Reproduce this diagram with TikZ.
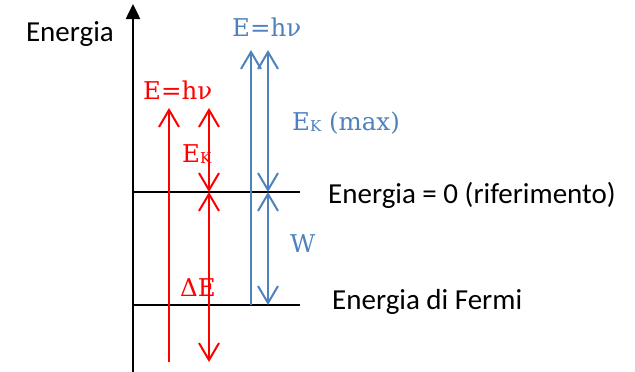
\documentclass[tikz,border=0pt]{standalone}
\usepackage{fontspec}
\setmainfont{Carlito}
\newfontfamily\lserif{DejaVu Serif}
\usetikzlibrary{arrows.meta}
\definecolor{myred}{RGB}{255,0,0}
\definecolor{myblue}{RGB}{79,129,189}
\newcommand{\EK}{E\raisebox{-1.5pt}{\fontsize{15}{15}\selectfont K}}
\tikzset{
  >={Straight Barb[length=17pt,width=20pt,line width=2pt]},
  lbl/.style={inner sep=0pt,anchor=base west,font=\fontsize{29}{31}\selectfont},
  clbl/.style={inner sep=0pt,anchor=base west,font=\lserif\fontsize{24.5}{28}\selectfont},
  level/.style={line width=2pt,black},
  redarr/.style={line width=2.3pt,myred},
  bluearr/.style={line width=2.3pt,myblue},
}
\begin{document}
\begin{tikzpicture}[x=1pt,y=-1pt]
\useasboundingbox (0,0) rectangle (635,372);
% axis
\coordinate (axb) at (133,374);
\coordinate (axt) at (133,4);
\draw[line width=2.5pt,-{Triangle[length=15pt,width=14pt]}] (axb) -- (axt);
% levels
\coordinate (z0) at (133,192);
\coordinate (z1) at (300,192);
\coordinate (f0) at (133,305);
\coordinate (f1) at (300,305);
\draw[level] (z0) -- (z1);
\draw[level] (f0) -- (f1);
% red arrows
\coordinate (r1b) at (169,362);
\coordinate (r1t) at (169,108);
\coordinate (r2t) at (209,108);
\coordinate (r2m) at (209,192);
\coordinate (r2b) at (209,362);
\draw[redarr,->] (r1b) -- (r1t);
\draw[redarr,<->] (r2m) -- (r2t);
\draw[redarr,<->] (r2m) -- (r2b);
% blue arrows
\coordinate (b1b) at (251,305);
\coordinate (b1t) at (251,50);
\coordinate (b2t) at (268,50);
\coordinate (b2m) at (268,192);
\coordinate (b2b) at (268,305);
\draw[bluearr,->] (b1b) -- (b1t);
\draw[bluearr,<->] (b2m) -- (b2t);
\draw[bluearr,<->] (b2m) -- (b2b);
% labels
\node[lbl,anchor=base east] (en) at (114,41) {Energia};
\node[lbl] (ez) at (328,203) {Energia = 0 (riferimento)};
\node[lbl] (ef) at (332,309) {Energia di Fermi};
\node[clbl,myred] (rh) at (143,99) {E=hν};
\node[clbl,myred] (rk) at (182,162) {\EK};
\node[clbl,myred] (rd) at (180,296) {ΔE};
\node[clbl,myblue] (bh) at (232,36) {E=hν};
\node[clbl,myblue] (bk) at (292,130) {\EK{} (max)};
\node[clbl,myblue] (bw) at (290,252) {W};
\end{tikzpicture}
\end{document}
